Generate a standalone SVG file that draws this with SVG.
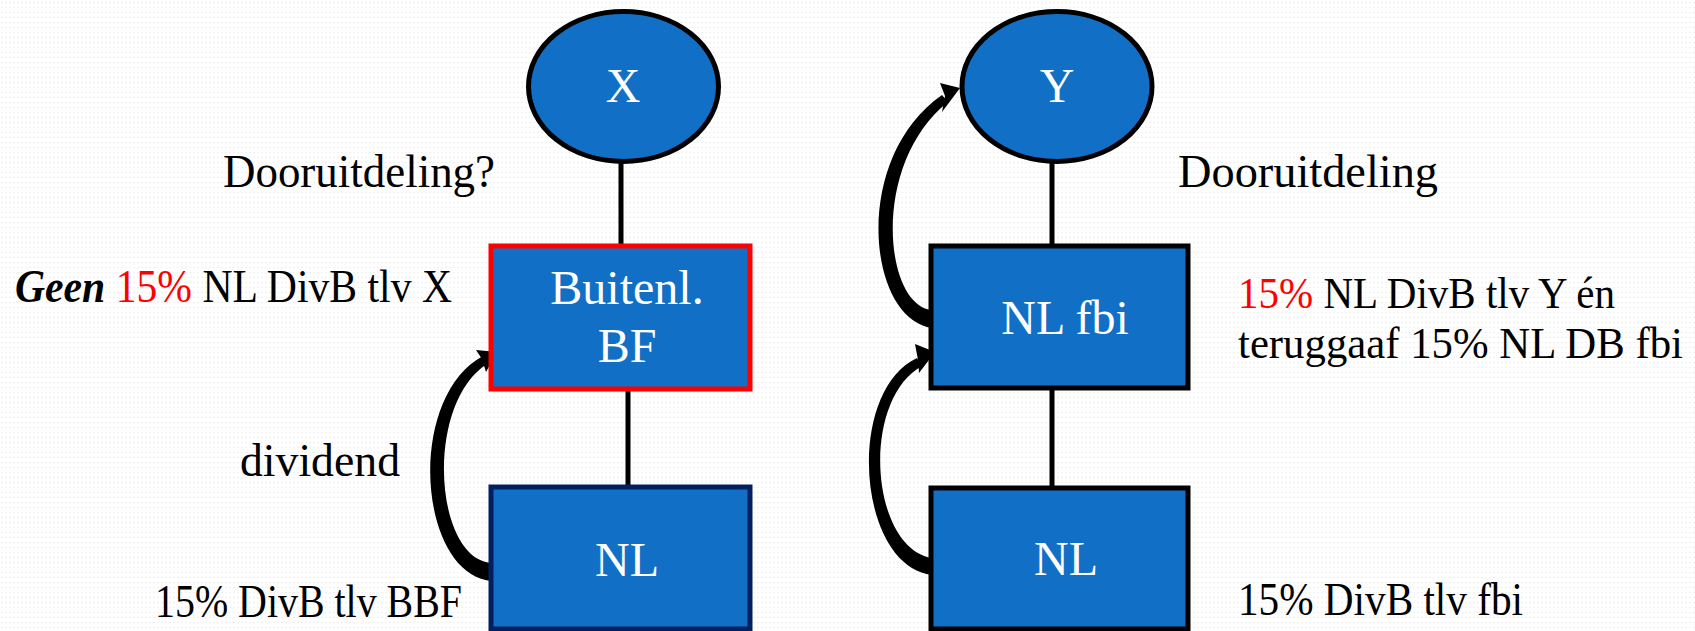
<svg xmlns="http://www.w3.org/2000/svg" width="1695" height="631" viewBox="0 0 1695 631">
<defs>
<pattern id="dots" width="4" height="5" patternUnits="userSpaceOnUse">
<rect width="4" height="5" fill="#ffffff"/>
<circle cx="2" cy="2.5" r="0.8" fill="#ececec"/>
</pattern>
<style>
.node{fill:#1170C6;stroke-width:5}
.lbl{font-family:"Liberation Serif","Times New Roman",serif;font-size:48px;fill:#ffffff;text-anchor:middle}
.txt{font-family:"Liberation Serif","Times New Roman",serif;font-size:46px;fill:#000000}
.sm{font-size:44px}
.red{fill:#ff0000}
.link{stroke:#000;stroke-width:5;fill:none}
.arr{fill:#000;stroke:none}
</style>
</defs>
<rect width="1695" height="631" fill="url(#dots)"/>

<g id="connectors">
<line class="link" x1="621" y1="163" x2="621" y2="247"/>
<line class="link" x1="628" y1="389" x2="628" y2="486"/>
<line class="link" x1="1052" y1="163" x2="1052" y2="247"/>
<line class="link" x1="1052" y1="388" x2="1052" y2="486"/>
<!-- left dividend arrow -->
<path class="arr" d="M492,581 C418,575 405,398 483,356 L487,364 C424,404 434,560 492,563 Z"/>
<path class="arr" d="M497,352 L476,350 L482,359 L486,372 Z"/>
<!-- right upper arrow -->
<path class="arr" d="M932,328 C867,319 851,158 942,95 L948,102 C870,164 884,306 932,310 Z"/>
<path class="arr" d="M960,88 L940,83 L945,96 L942,112 Z"/>
<!-- right lower arrow -->
<path class="arr" d="M932,575 C857,566 845,392 917,358 L922,366 C860,400 870,548 932,558 Z"/>
<path class="arr" d="M935,352 L915,344 L918,360 L919,373 Z"/>
</g>

<g id="node-X">
<ellipse class="node" cx="623.5" cy="86.5" rx="95" ry="75" stroke="#000"/>
<text class="lbl" x="623" y="102">X</text>
</g>
<g id="node-BBF">
<rect class="node" x="491" y="246" width="259" height="143" stroke="#ff0000"/>
<text class="lbl" x="627" y="304">Buitenl.</text>
<text class="lbl" x="627" y="362">BF</text>
</g>
<g id="node-NL-left">
<rect class="node" x="491" y="487" width="259" height="142" stroke="#002060"/>
<text class="lbl" x="627" y="576">NL</text>
</g>
<g id="node-Y">
<ellipse class="node" cx="1057" cy="86.5" rx="95" ry="75" stroke="#000"/>
<text class="lbl" x="1057" y="102">Y</text>
</g>
<g id="node-NLfbi">
<rect class="node" x="931" y="246" width="257" height="142" stroke="#000"/>
<text class="lbl" x="1065" y="334">NL fbi</text>
</g>
<g id="node-NL-right">
<rect class="node" x="931" y="488" width="257" height="141" stroke="#000"/>
<text class="lbl" x="1066" y="575">NL</text>
</g>

<g id="labels">
<text class="txt" x="223" y="187" textLength="272" lengthAdjust="spacingAndGlyphs">Dooruitdeling?</text>
<text class="txt" x="1178" y="187" textLength="260" lengthAdjust="spacingAndGlyphs">Dooruitdeling</text>
<text class="txt" x="15" y="302" textLength="437" lengthAdjust="spacingAndGlyphs"><tspan font-weight="bold" font-style="italic">Geen</tspan> <tspan class="red">15%</tspan> NL DivB tlv X</text>
<text class="txt" x="240" y="476" textLength="160" lengthAdjust="spacingAndGlyphs">dividend</text>
<text class="txt" x="155" y="617" textLength="307" lengthAdjust="spacingAndGlyphs">15% DivB tlv BBF</text>
<text class="txt sm" x="1238" y="308" textLength="377" lengthAdjust="spacingAndGlyphs"><tspan class="red">15%</tspan> NL DivB tlv Y én</text>
<text class="txt sm" x="1238" y="358" textLength="445" lengthAdjust="spacingAndGlyphs">teruggaaf 15% NL DB fbi</text>
<text class="txt" x="1238" y="615" textLength="285" lengthAdjust="spacingAndGlyphs">15% DivB tlv fbi</text>
</g>
</svg>
